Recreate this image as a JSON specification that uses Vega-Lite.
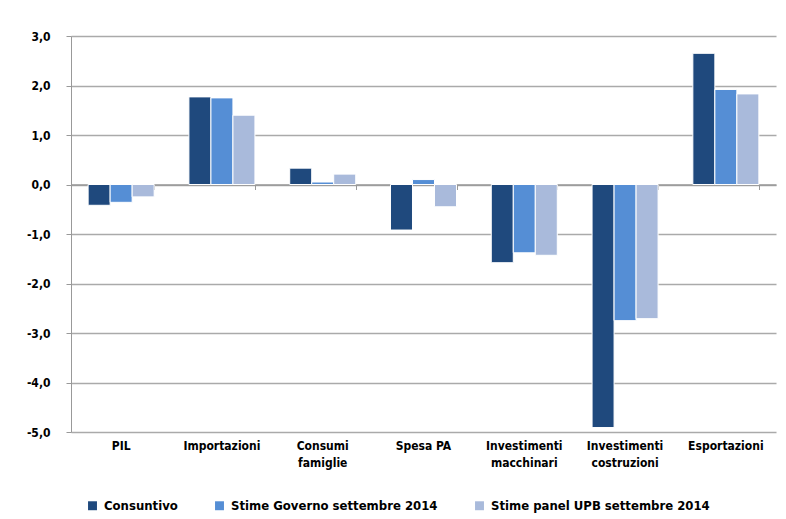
{
  "$schema": "https://vega.github.io/schema/vega-lite/v6.json",
  "width": 705,
  "height": 396,
  "autosize": {"type": "none"},
  "padding": {"left": 71, "top": 36, "right": 10, "bottom": 87},
  "background": "white",
  "config": {"view": {"stroke": null}, "font": "DejaVu Sans Condensed"},
  "data": {
    "values": [
      {"Categoria": "PIL", "Serie": "Consuntivo", "Valore": -0.42},
      {"Categoria": "PIL", "Serie": "Stime Governo settembre 2014", "Valore": -0.36},
      {"Categoria": "PIL", "Serie": "Stime panel UPB settembre 2014", "Valore": -0.25},
      {"Categoria": "Importazioni", "Serie": "Consuntivo", "Valore": 1.77},
      {"Categoria": "Importazioni", "Serie": "Stime Governo settembre 2014", "Valore": 1.75},
      {"Categoria": "Importazioni", "Serie": "Stime panel UPB settembre 2014", "Valore": 1.40},
      {"Categoria": "Consumi famiglie", "Serie": "Consuntivo", "Valore": 0.33},
      {"Categoria": "Consumi famiglie", "Serie": "Stime Governo settembre 2014", "Valore": 0.05},
      {"Categoria": "Consumi famiglie", "Serie": "Stime panel UPB settembre 2014", "Valore": 0.21},
      {"Categoria": "Spesa PA", "Serie": "Consuntivo", "Valore": -0.92},
      {"Categoria": "Spesa PA", "Serie": "Stime Governo settembre 2014", "Valore": 0.10},
      {"Categoria": "Spesa PA", "Serie": "Stime panel UPB settembre 2014", "Valore": -0.45},
      {"Categoria": "Investimenti macchinari", "Serie": "Consuntivo", "Valore": -1.58},
      {"Categoria": "Investimenti macchinari", "Serie": "Stime Governo settembre 2014", "Valore": -1.38},
      {"Categoria": "Investimenti macchinari", "Serie": "Stime panel UPB settembre 2014", "Valore": -1.43},
      {"Categoria": "Investimenti costruzioni", "Serie": "Consuntivo", "Valore": -4.91},
      {"Categoria": "Investimenti costruzioni", "Serie": "Stime Governo settembre 2014", "Valore": -2.75},
      {"Categoria": "Investimenti costruzioni", "Serie": "Stime panel UPB settembre 2014", "Valore": -2.71},
      {"Categoria": "Esportazioni", "Serie": "Consuntivo", "Valore": 2.65},
      {"Categoria": "Esportazioni", "Serie": "Stime Governo settembre 2014", "Valore": 1.92},
      {"Categoria": "Esportazioni", "Serie": "Stime panel UPB settembre 2014", "Valore": 1.83}
    ]
  },
  "layer": [
    {
      "mark": {"type": "bar", "stroke": "white", "strokeWidth": 1},
      "encoding": {
        "x": {
          "field": "Categoria",
          "type": "nominal",
          "sort": ["PIL", "Importazioni", "Consumi famiglie", "Spesa PA", "Investimenti macchinari", "Investimenti costruzioni", "Esportazioni"],
          "scale": {"paddingInner": 0.345, "paddingOuter": 0.17},
          "axis": {
            "title": null,
            "labelAngle": 0,
            "domain": false,
            "ticks": false,
            "grid": false,
            "labelPadding": 8,
            "labelFontWeight": "bold",
            "labelFontSize": 12,
            "labelColor": "black",
            "labelLineHeight": 17,
            "labelExpr": "datum.label == 'Spesa PA' ? datum.label : split(datum.label, ' ')"
          }
        },
        "xOffset": {
          "field": "Serie",
          "sort": ["Consuntivo", "Stime Governo settembre 2014", "Stime panel UPB settembre 2014"],
          "scale": {"paddingInner": 0, "paddingOuter": 0}
        },
        "y": {
          "field": "Valore",
          "type": "quantitative",
          "scale": {"domain": [-5, 3], "nice": false},
          "axis": {
            "title": null,
            "values": [-5, -4, -3, -2, -1, 0, 1, 2, 3],
            "labelExpr": "(datum.value < 0 ? '-' : '') + replace(format(abs(datum.value), '.1f'), '.', ',')",
            "labelFontWeight": "bold",
            "labelFontSize": 12,
            "labelColor": "black",
            "labelPadding": 16,
            "tickSize": 5,
            "tickColor": "#999999",
            "domainColor": "#999999",
            "gridColor": "#aaaaaa",
            "gridWidth": 1.5
          }
        },
        "color": {
          "field": "Serie",
          "type": "nominal",
          "sort": ["Consuntivo", "Stime Governo settembre 2014", "Stime panel UPB settembre 2014"],
          "scale": {"range": ["#1F497D", "#558ED5", "#A9BADB"]},
          "legend": {
            "title": null,
            "orient": "none",
            "direction": "horizontal",
            "legendX": 15,
            "legendY": 463,
            "symbolType": "square",
            "symbolSize": 80,
            "symbolStrokeWidth": 0,
            "labelFontSize": 13,
            "labelFontWeight": "bold",
            "labelColor": "black",
            "labelOffset": 5,
            "labelLimit": 400,
            "columnPadding": 35
          }
        }
      }
    },
    {
      "mark": {"type": "bar", "opacity": 0},
      "encoding": {
        "x": {
          "field": "Categoria",
          "type": "nominal",
          "sort": ["PIL", "Importazioni", "Consumi famiglie", "Spesa PA", "Investimenti macchinari", "Investimenti costruzioni", "Esportazioni"],
          "axis": {
            "title": null,
            "orient": "bottom",
            "offset": -247.5,
            "labels": false,
            "ticks": true,
            "tickBand": "extent",
            "tickSize": 5,
            "tickColor": "#999999",
            "domain": true,
            "domainColor": "#999999",
            "domainWidth": 1.5,
            "grid": false
          }
        },
        "y": {"field": "Valore", "type": "quantitative"}
      }
    }
  ],
  "resolve": {"axis": {"x": "independent"}}
}
